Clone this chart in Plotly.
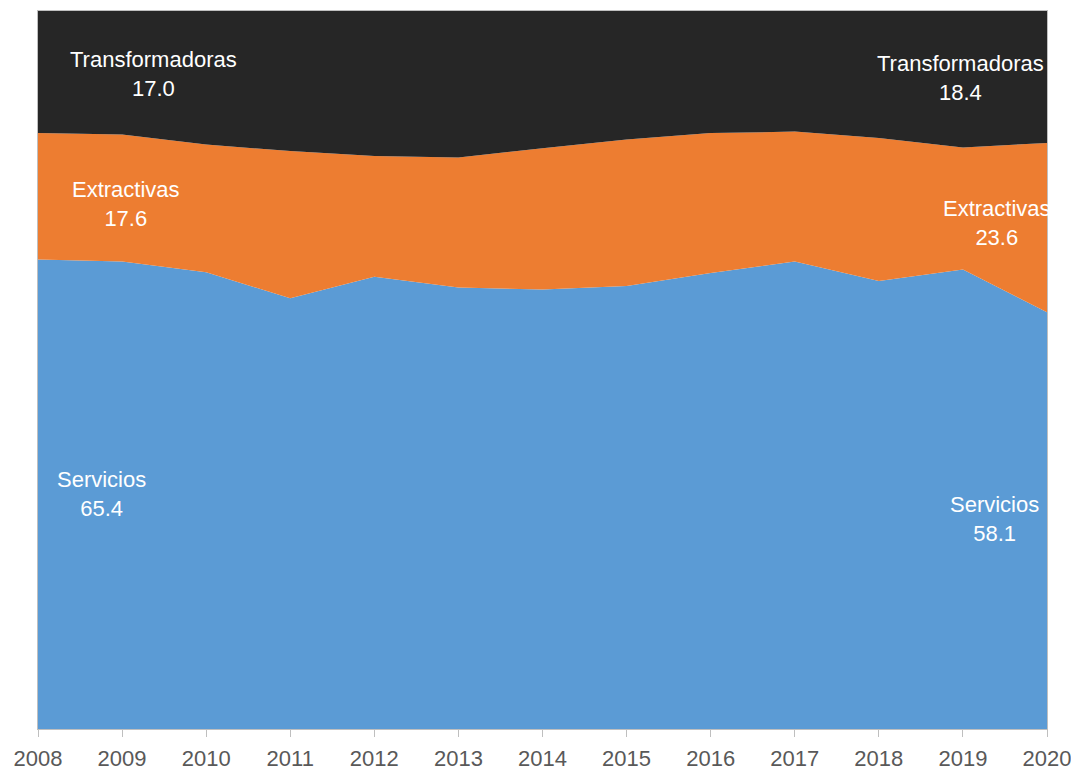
import plotly.graph_objects as go

# Datos (% del total)
years = list(range(2008, 2021))
servicios = [65.4, 65.1, 63.6, 60.0, 63.0, 61.5, 61.2, 61.7, 63.5, 65.1, 62.4, 64.0, 58.1]
extractivas = [17.6, 17.7, 17.8, 20.5, 16.8, 18.1, 19.7, 20.4, 19.5, 18.1, 19.9, 17.0, 23.6]
transformadoras = [17.0, 17.2, 18.6, 19.5, 20.2, 20.4, 19.1, 17.9, 17.0, 16.8, 17.7, 19.0, 18.4]

series = [
    ("Servicios", servicios, "#5B9BD5"),
    ("Extractivas", extractivas, "#ED7D31"),
    ("Transformadoras", transformadoras, "#262626"),
]

fig = go.Figure()
for name, vals, color in series:
    fig.add_trace(go.Scatter(
        x=years, y=vals, name=name, mode="lines",
        stackgroup="one", groupnorm="percent",
        line=dict(width=0, color=color), fillcolor=color,
        hoverinfo="x+y+name",
    ))

# Etiquetas de inicio y fin
font_lbl = dict(family="Liberation Sans, Arial", size=22, color="white")
left_pos = {"Servicios": (2008.76, 32.8), "Extractivas": (2009.05, 73.1), "Transformadoras": (2009.37, 91.2)}
right_pos = {"Servicios": (2019.38, 29.2), "Extractivas": (2019.4, 70.5), "Transformadoras": (2018.97, 90.6)}
for name, vals, color in series:
    x0, y0 = left_pos[name]
    x1, y1 = right_pos[name]
    fig.add_annotation(x=x0, y=y0, xref="x", yref="y", showarrow=False,
                       text=f"{name}<br>{vals[0]:.1f}", font=font_lbl, align="center")
    fig.add_annotation(x=x1, y=y1, xref="x", yref="y", showarrow=False,
                       text=f"{name}<br>{vals[-1]:.1f}", font=font_lbl, align="center")

# La pagina deja 8px de margen en el body
fig.update_layout(
    width=1071, height=762,
    margin=dict(l=30, r=32, t=3, b=41),
    plot_bgcolor="white", paper_bgcolor="white",
    showlegend=False,
    font=dict(family="Liberation Sans, Arial", color="#595959"),
)
fig.update_xaxes(
    range=[2008, 2020], tickvals=years, ticktext=[str(y) for y in years],
    ticks="outside", ticklen=7, tickcolor="#bfbfbf", automargin=False,
    ticklabelstandoff=3,
    showline=True, linecolor="#bfbfbf", linewidth=1, mirror=True,
    showgrid=False, zeroline=False, tickfont=dict(size=22, color="#595959"),
)
fig.update_yaxes(
    range=[0, 100], showticklabels=False, showgrid=False, zeroline=False,
    automargin=False,
    showline=True, linecolor="#bfbfbf", linewidth=1, mirror=True, ticks="",
)

fig.write_html("out.html")
